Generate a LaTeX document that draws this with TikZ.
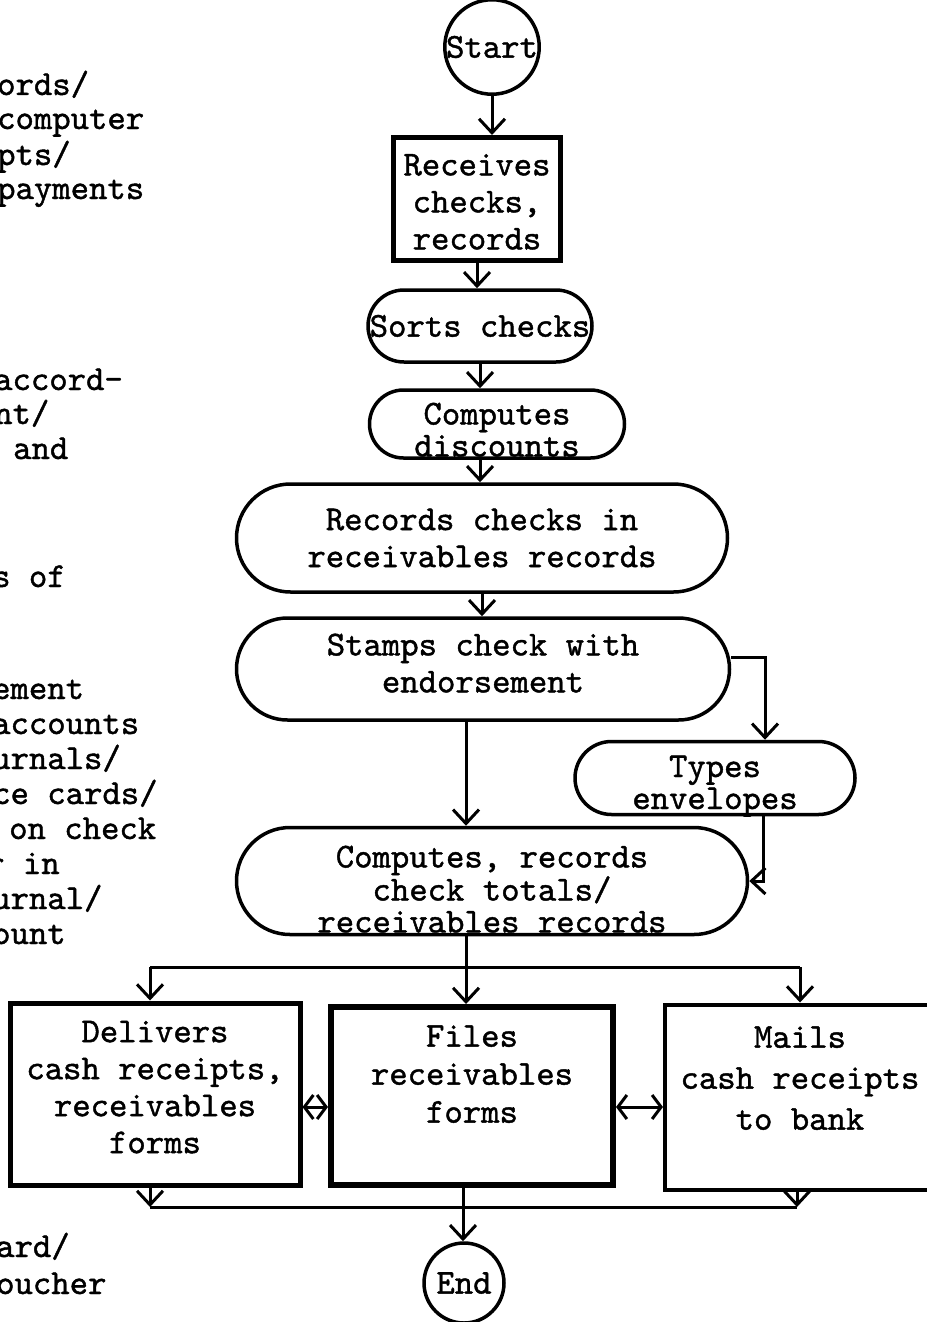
\documentclass[tikz,border=0pt]{standalone}
\usepackage{fontspec}
\newfontfamily\tw{lmmono10-regular.otf}[FakeBold=1.2]
\usetikzlibrary{arrows.meta,shapes.misc,calc}
\begin{document}
\begin{tikzpicture}[x=1pt,y=1pt,
  every node/.style={font=\tw\fontsize{35}{37}\selectfont},
  term/.style={circle,draw,line width=3.5pt,inner sep=0pt},
  procbox/.style={rectangle,draw,line width=5pt,align=center,inner sep=0pt},
  stad/.style={rounded rectangle,draw,line width=3.5pt,align=center,inner sep=0pt},
  arr/.style={line width=3pt,-{Straight Barb[length=14pt,width=26pt]}},
  darr/.style={line width=3pt,{Straight Barb[length=9pt,width=24pt]}-{Straight Barb[length=9pt,width=24pt]}},
  ln/.style={line width=3pt},
  side/.style={anchor=base west,inner sep=0pt}
]
\useasboundingbox (0,0) rectangle (926,-1322);

% flow nodes
\node[term,minimum size=90] (start) at (492,-47) {Start};
\node[procbox,minimum width=167,minimum height=123,text height=101] (recv) at (477,-199) {Receives\\checks,\\records};
\node[stad,minimum width=220,minimum height=72] (sort) at (480,-326) {Sorts checks};
\node[stad,minimum width=255,minimum height=68,font=\tw\fontsize{35}{32}\selectfont,text height=65,text depth=0] (disc) at (497,-424) {Computes\\discounts};
\node[stad,minimum width=491,minimum height=108] (rec) at (482,-538) {Records checks in\\receivables records};
\node[stad,minimum width=493,minimum height=102,text depth=12] (stamp) at (483,-669) {Stamps check with\\endorsement};
\node[stad,minimum width=280,minimum height=73,font=\tw\fontsize{35}{32}\selectfont,text height=63,text depth=1] (types) at (715,-778) {Types\\envelopes};
\node[stad,minimum width=511,minimum height=107,font=\tw\fontsize{35}{32}\selectfont,text height=103,text depth=0] (comp) at (492,-881) {Computes, records\\check totals/\\receivables records};
\node[procbox,minimum width=290,minimum height=182,text depth=14] (deliv) at (155,-1094) {Delivers\\cash receipts,\\receivables\\forms};
\node[procbox,line width=6pt,minimum width=282,minimum height=178,font=\tw\fontsize{35}{38}\selectfont,text depth=44] (files) at (472,-1096) {Files\\receivables\\forms};
\node[procbox,line width=4pt,minimum width=270,minimum height=185,font=\tw\fontsize{35}{41}\selectfont,text depth=38] (mails) at (800,-1097) {Mails\\cash receipts\\to bank};
\node[term,minimum size=80] (end) at (464,-1283) {End};

% junction points
\coordinate (jl) at (150,-967);
\coordinate (jr) at (800,-967);
\coordinate (bl) at (150,-1207);
\coordinate (br) at (797,-1207);

% connectors
\draw[arr] (start.south) -- (start.south |- recv.north);
\draw[arr] (recv.south) -- (recv.south |- sort.north);
\draw[arr] (sort.south) -- (sort.south |- disc.north);
\draw[arr] (sort.south |- disc.south) -- (sort.south |- rec.north);
\draw[arr] (rec.south) -- (rec.south |- stamp.north);
\draw[arr] ([xshift=-17]stamp.south) -- ([xshift=-17]stamp.south |- comp.north);
\draw[arr] ([yshift=12]stamp.east) -| ([xshift=50]types.north);
\draw[arr] ([xshift=48]types.south) |- (comp.east);
\draw[ln] (jl) -- (jr);
\draw[arr] ([xshift=-26]comp.south) -- ([xshift=-26]comp.south |- files.north);
\draw[arr] (jl) -- (jl |- deliv.north);
\draw[arr] (jr) -- (jr |- mails.north);
\draw[darr] ([yshift=-13]deliv.east) -- ([yshift=-13]deliv.east -| files.west);
\draw[darr] ([yshift=-11]files.east) -- ([yshift=-11]files.east -| mails.west);
\draw[ln] (bl) -- (br);
\draw[arr] (deliv.south -| bl) -- (bl);
\draw[arr] (mails.south -| br) -- (br);
\draw[arr] ([xshift=-9]files.south) -- ([xshift=-9]files.south |- end.north);

% clipped side text
\node[side] (t1) at (-3,-95) {ords/};
\node[side] (t2) at (-3,-129) {computer};
\node[side] (t3) at (-3,-165) {pts/};
\node[side] (t4) at (-3,-199) {payments};
\node[side] (t5) at (-6,-390) {accord-};
\node[side] (t6) at (-6,-424) {nt/};
\node[side] (t7) at (13,-459) {and};
\node[side] (t8) at (-8,-587) {s of};
\node[side] (t9) at (-8,-699) {ement};
\node[side] (t10) at (-8,-734) {accounts};
\node[side] (t11) at (-8,-769) {urnals/};
\node[side] (t12) at (-8,-804) {ce cards/};
\node[side] (t13) at (9,-839) {on check};
\node[side] (t14) at (-14,-874) {r in};
\node[side] (t15) at (-8,-909) {urnal/};
\node[side] (t16) at (-8,-944) {ount};
\node[side] (t17) at (-4,-1257) {ard/};
\node[side] (t18) at (-4,-1294) {oucher};
\end{tikzpicture}
\end{document}
